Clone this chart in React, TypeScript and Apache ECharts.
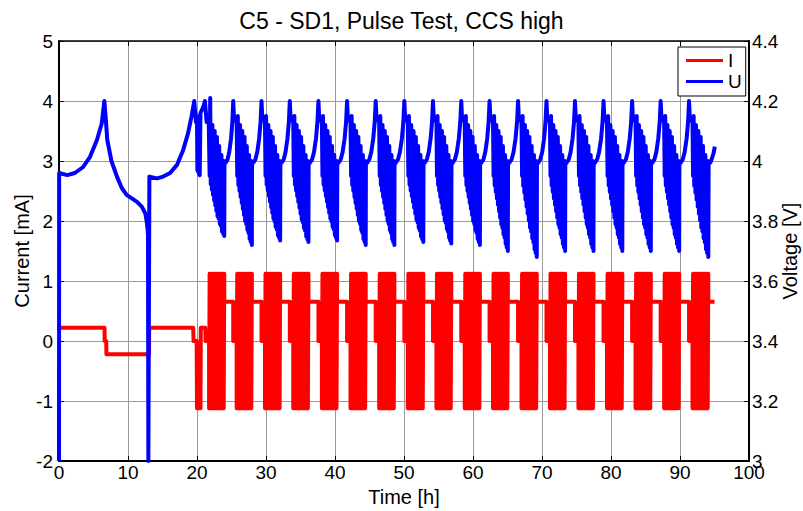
import React, { useEffect, useRef } from "react";
import * as echarts from "echarts";

// ---------- data ----------
const TITLE = "C5 - SD1, Pulse Test, CCS high";

// initial phase, current [mA]
const earlyTimeI = [0, 6.6, 6.62, 6.85, 6.87, 13.05, 13.07, 19.45, 19.5, 19.95, 20.0, 20.5, 20.55, 21.2, 21.25];
const earlyCurrent = [0.22, 0.22, 0, 0, -0.22, -0.22, 0.22, 0.22, 0, 0, -1.12, -1.12, 0.22, 0.22, 0];

// initial phase, voltage [V]
const earlyTimeU = [0, 0.02, 1.2, 2.3, 3.5, 4.5, 5.5, 6.2, 6.57, 6.75, 7.0, 7.6, 8.4, 9.1, 9.8, 11.3, 12.0, 12.5, 12.7, 12.85, 12.9, 12.95, 13.05, 13.1, 14.2, 15.1, 16.1, 17.1, 18.0, 18.7, 19.2, 19.6, 19.85, 20.0, 20.05, 20.4, 20.5, 20.9, 21.15, 21.4, 21.7];
const earlyVoltage = [3.0, 3.96, 3.953, 3.96, 3.98, 4.014, 4.07, 4.126, 4.2, 4.15, 4.07, 4.0, 3.948, 3.91, 3.887, 3.864, 3.848, 3.826, 3.8, 3.77, 3.75, 3.0, 3.0, 3.948, 3.942, 3.948, 3.96, 3.987, 4.037, 4.092, 4.148, 4.2, 4.13, 4.15, 3.97, 3.953, 4.16, 4.18, 4.2, 4.13, 4.13];

// pulse blocks (h)
const blockStart = [21.75, 25.75, 29.85, 33.95, 38.1, 42.25, 46.4, 50.55, 54.7, 58.8, 62.9, 67.03, 71.15, 75.28, 79.42, 83.56, 87.7, 91.81];
const blockEnd = [23.95, 27.95, 32.05, 36.15, 40.3, 44.45, 48.6, 52.8, 56.85, 61.0, 65.05, 69.24, 73.35, 77.46, 81.64, 85.77, 89.88, 94.1];
const blockTopU = [4.21, 4.15, 4.15, 4.15, 4.15, 4.15, 4.15, 4.15, 4.15, 4.15, 4.15, 4.15, 4.15, 4.15, 4.15, 4.15, 4.15, 4.15];
const blockMinU = [3.75, 3.72, 3.735, 3.73, 3.735, 3.72, 3.72, 3.73, 3.725, 3.72, 3.7, 3.68, 3.7, 3.7, 3.7, 3.7, 3.7, 3.68];

// pulse levels & charge step (mA)
const pulseHigh = 1.12;
const pulseLow = -1.12;
const chargeCurrent = 0.655;
const restHours = 0.5;
const endTime = 95.0;

// voltage envelope inside a pulse block (upper / lower), read from one block
const upperEnv = [4.13, 4.15, 4.08, 4.12, 4.06, 4.1, 4.04, 4.08, 4.02, 4.05, 4.0, 4.02, 3.98, 4.0];
const lowerEnv = [3.95, 3.92, 3.9, 3.88, 3.86, 3.84, 3.82, 3.8, 3.79, 3.77, 3.76, 3.74, 3.73, 3.72];
// voltage during recharge after a block
const riseFrac = [0, 0.15, 0.35, 0.55, 0.75, 0.9, 1];
const riseU = [3.99, 3.995, 4.005, 4.03, 4.075, 4.13, 4.2];
const restU = [4.14, 4.13];
// final recharge after last block
const finalTimeU = [94.15, 94.4, 94.65, 94.85, 95.05];
const finalU = [3.99, 3.995, 4.01, 4.025, 4.048];

function buildCurrent(): number[][] {
  const pts: number[][] = earlyTimeI.map((t, i) => [t, earlyCurrent[i]]);
  const n = 28;
  for (let k = 0; k < blockStart.length; k++) {
    const s = blockStart[k];
    const e = blockEnd[k];
    pts.push([s, 0]);
    for (let j = 0; j < n; j++) {
      pts.push([s + (j / (n - 1)) * (e - s), j % 2 === 0 ? pulseLow : pulseHigh]);
    }
    pts.push([e, chargeCurrent]);
    if (k + 1 < blockStart.length) {
      const nx = blockStart[k + 1];
      pts.push([nx - restHours, chargeCurrent]);
      pts.push([nx - restHours, 0]);
    } else {
      pts.push([endTime, chargeCurrent]);
    }
  }
  return pts;
}

function buildVoltage(): number[][] {
  const pts: number[][] = earlyTimeU.map((t, i) => [t, earlyVoltage[i]]);
  const m = upperEnv.length;
  const lastLow = lowerEnv[m - 1];
  for (let k = 0; k < blockStart.length; k++) {
    const s = blockStart[k];
    const e = blockEnd[k];
    const total = 2 * m - 1;
    for (let j = 0; j < m; j++) {
      const up = j === 1 ? blockTopU[k] : upperEnv[j];
      const lo = lowerEnv[j] + (blockMinU[k] - lastLow) * (j / (m - 1));
      pts.push([s + ((2 * j) / total) * (e - s), up]);
      pts.push([s + ((2 * j + 1) / total) * (e - s), lo]);
    }
    if (k + 1 < blockStart.length) {
      const nx = blockStart[k + 1];
      const peakT = nx - restHours;
      const r0 = e + 0.03;
      riseFrac.forEach((f, i) => pts.push([r0 + f * (peakT - r0), riseU[i]]));
      pts.push([peakT + 0.12, restU[0]]);
      pts.push([nx, restU[1]]);
    } else {
      finalTimeU.forEach((t, i) => pts.push([t, finalU[i]]));
    }
  }
  return pts;
}

const FONT = "'Liberation Sans', Arial, Helvetica, sans-serif";

export default function App() {
  const ref = useRef<HTMLDivElement>(null);
  useEffect(() => {
    document.body.style.margin = "0";
    if (!ref.current) return;
    const chart = echarts.init(ref.current, undefined, { renderer: "svg" });
    const axisLine = (w: number) => ({ show: true, onZero: false, lineStyle: { color: "#000", width: w } });
    chart.setOption({
      animation: false,
      backgroundColor: "#fff",
      textStyle: { fontFamily: FONT },
      title: {
        text: TITLE,
        left: "center",
        top: 4,
        textStyle: { fontFamily: FONT, fontSize: 23, fontWeight: "normal", color: "#000" },
      },
      legend: {
        data: ["I", "U"],
        orient: "vertical",
        left: 678,
        top: 47,
        padding: [4, 4, 5, 8],
        itemGap: 2,
        itemWidth: 37,
        itemHeight: 3,
        icon: "rect",
        backgroundColor: "#fff",
        borderColor: "#000",
        borderWidth: 1,
        borderRadius: 0,
        textStyle: { fontFamily: FONT, fontSize: 19, color: "#000", padding: [0, 0, 0, 0] },
      },
      grid: { left: 59, right: 54, top: 41, bottom: 50, containLabel: false, outerBoundsMode: "none" },
      xAxis: [
        {
          type: "value",
          min: 0,
          max: 100,
          interval: 10,
          name: "Time [h]",
          nameLocation: "middle",
          nameGap: 24,
          nameTextStyle: { fontFamily: FONT, fontSize: 20, color: "#000" },
          axisLine: axisLine(2),
          axisTick: { show: true, inside: true, length: 5, lineStyle: { color: "#000", width: 1 } },
          axisLabel: { fontFamily: FONT, fontSize: 19, color: "#000", margin: 2 },
          splitLine: { show: true, lineStyle: { color: "#9a9a9a", width: 1 } },
        },
        {
          type: "value",
          position: "top",
          min: 0,
          max: 100,
          interval: 10,
          axisLine: axisLine(1.5),
          axisTick: { show: true, inside: true, length: 5, lineStyle: { color: "#000", width: 1 } },
          axisLabel: { show: false },
          splitLine: { show: false },
        },
      ],
      yAxis: [
        {
          type: "value",
          min: -2,
          max: 5,
          interval: 1,
          name: "Current [mA]",
          nameLocation: "middle",
          nameRotate: 90,
          nameGap: 27,
          nameMoveOverlap: false,
          nameTextStyle: { fontFamily: FONT, fontSize: 20, color: "#000" },
          axisLine: axisLine(2),
          axisTick: { show: true, inside: true, length: 5, lineStyle: { color: "#000", width: 1 } },
          axisLabel: { fontFamily: FONT, fontSize: 19, color: "#000", margin: 6 },
          splitLine: { show: true, lineStyle: { color: "#9a9a9a", width: 1 } },
        },
        {
          type: "value",
          position: "right",
          min: 3,
          max: 4.4,
          interval: 0.2,
          name: "Voltage [V]",
          nameLocation: "middle",
          nameRotate: 90,
          nameGap: 31,
          nameMoveOverlap: false,
          nameTextStyle: { fontFamily: FONT, fontSize: 20, color: "#000" },
          axisLine: axisLine(2),
          axisTick: { show: true, inside: true, length: 5, lineStyle: { color: "#000", width: 1 } },
          axisLabel: { fontFamily: FONT, fontSize: 19, color: "#000", margin: 3 },
          splitLine: { show: false },
        },
      ],
      series: [
        {
          name: "I",
          type: "line",
          xAxisIndex: 0,
          yAxisIndex: 0,
          data: buildCurrent(),
          showSymbol: false,
          symbol: "none",
          color: "#ff0000",
          lineStyle: { color: "#ff0000", width: 4, join: "round" },
          z: 3,
        },
        {
          name: "U",
          type: "line",
          xAxisIndex: 0,
          yAxisIndex: 1,
          data: buildVoltage(),
          showSymbol: false,
          symbol: "none",
          clip: false,
          color: "#0000ff",
          lineStyle: { color: "#0000ff", width: 4, join: "round" },
          z: 4,
        },
      ],
    });
    return () => chart.dispose();
  }, []);
  return <div ref={ref} style={{ width: 803, height: 511 }} />;
}
